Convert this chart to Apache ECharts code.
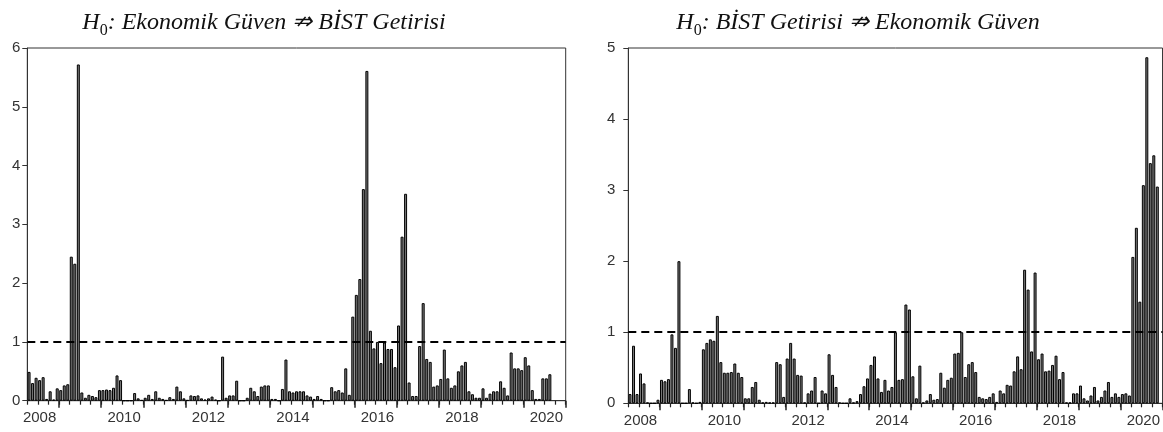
<!DOCTYPE html>
<html>
<head>
<meta charset="utf-8">
<script src="https://cdn.jsdelivr.net/npm/echarts@6/dist/echarts.min.js"></script>
<style>
  html, body { margin: 0; padding: 0; background: #fff; }
  #main { width: 1163px; height: 432px; }
</style>
</head>
<body>
<div id="main"></div>
<script>
// monthly categories, 2008M04 .. 2020M12
var months = []
for (var y = 2008; y <= 2020; y++) {
  for (var m = 1; m <= 12; m++) {
    if (y === 2008 && m < 4) continue
    months.push(y + 'M' + (m < 10 ? '0' + m : m))
  }
}

var titleLeft = ': Ekonomik Güven ⇏ BİST Getirisi'
var titleRight = ': BİST Getirisi ⇏ Ekonomik Güven'
var refLevel = 1

// H0: Ekonomik Guven does not cause BIST
var leftValues = [
  0.49, 0.30, 0.39, 0.35, 0.40, 0.03, 0.16, 0.02, 0.21, 0.18, 0.26, 0.28,
  2.45, 2.33, 5.72, 0.14, 0.05, 0.10, 0.08, 0.06, 0.18, 0.18, 0.19, 0.18,
  0.22, 0.43, 0.35, 0, 0, 0, 0.13, 0.04, 0.01, 0.05, 0.10, 0.03,
  0.16, 0.05, 0.03, 0.01, 0.06, 0.03, 0.24, 0.16, 0.04, 0.01, 0.09, 0.08,
  0.09, 0.04, 0.02, 0.04, 0.07, 0.02, 0, 0.75, 0.05, 0.09, 0.09, 0.34,
  0, 0, 0.05, 0.22, 0.16, 0.08, 0.24, 0.26, 0.26, 0.03, 0.03, 0,
  0.20, 0.70, 0.16, 0.14, 0.16, 0.16, 0.16, 0.09, 0.07, 0.03, 0.08, 0.03,
  0, 0, 0.23, 0.16, 0.18, 0.14, 0.55, 0.10, 1.43, 1.80, 2.07, 3.60,
  5.61, 1.19, 0.89, 1.00, 0.64, 0.99, 0.88, 0.88, 0.57, 1.28, 2.79, 3.52,
  0.31, 0.08, 0.08, 0.93, 1.66, 0.71, 0.66, 0.24, 0.26, 0.37, 0.87, 0.38,
  0.22, 0.26, 0.50, 0.60, 0.66, 0.16, 0.11, 0.05, 0.05, 0.21, 0.05, 0.12,
  0.16, 0.16, 0.33, 0.22, 0.09, 0.82, 0.55, 0.55, 0.52, 0.74, 0.60, 0.18,
  0.03, 0.03, 0.38, 0.38, 0.45
]

// H0: BIST does not cause Ekonomik Guven
var rightValues = [
  0.13, 0.81, 0.13, 0.42, 0.28, 0.01, 0, 0, 0.05, 0.33, 0.31, 0.34,
  0.97, 0.78, 2.00, 0, 0, 0.20, 0.01, 0, 0.02, 0.76, 0.85, 0.90,
  0.88, 1.23, 0.58, 0.43, 0.43, 0.44, 0.56, 0.43, 0.37, 0.07, 0.07, 0.23,
  0.30, 0.05, 0.01, 0.02, 0.01, 0.01, 0.58, 0.55, 0.09, 0.63, 0.85, 0.63,
  0.40, 0.39, 0.01, 0.14, 0.18, 0.37, 0, 0.18, 0.14, 0.69, 0.40, 0.23,
  0.01, 0, 0, 0.07, 0.01, 0.03, 0.13, 0.24, 0.35, 0.54, 0.66, 0.35,
  0.16, 0.33, 0.18, 0.23, 1.00, 0.33, 0.34, 1.39, 1.32, 0.38, 0.07, 0.53,
  0.01, 0.04, 0.13, 0.05, 0.06, 0.43, 0.22, 0.33, 0.36, 0.70, 0.71, 1.00,
  0.37, 0.55, 0.58, 0.44, 0.09, 0.07, 0.06, 0.09, 0.14, 0.02, 0.18, 0.14,
  0.26, 0.25, 0.45, 0.66, 0.48, 1.88, 1.60, 0.73, 1.84, 0.62, 0.70, 0.45,
  0.46, 0.54, 0.67, 0.34, 0.44, 0.01, 0.01, 0.14, 0.14, 0.25, 0.07, 0.04,
  0.11, 0.23, 0.04, 0.09, 0.18, 0.30, 0.09, 0.14, 0.09, 0.13, 0.14, 0.11,
  2.06, 2.47, 1.43, 3.07, 4.87, 3.38, 3.49, 3.05
]

var axisColor = '#333'
var labelFont = { fontFamily: 'Liberation Sans', fontSize: 15, color: '#333' }

var isJan = function (i, v) { return v.slice(5) === '01' }
var isQuarter = function (i, v) { return ['01', '04', '07', '10'].indexOf(v.slice(5)) >= 0 }
var isLabel = function (i, v) { return v.slice(5) === '07' && +v.slice(0, 4) % 2 === 0 }

function mainX (grid) {
  return {
    type: 'category', gridIndex: grid, position: 'bottom', data: months,
    axisLine: { show: true, lineStyle: { color: axisColor, width: 1 } },
    axisTick: { show: true, interval: isJan, length: 7, lineStyle: { color: '#222', width: 1.5 } },
    axisLabel: Object.assign({ interval: isLabel, margin: 10, formatter: function (v) { return v.slice(0, 4) } }, labelFont),
    splitLine: { show: false }
  }
}

function minorX (grid) {
  return {
    type: 'category', gridIndex: grid, position: 'bottom', data: months,
    axisLine: { show: false },
    axisTick: { show: true, interval: isQuarter, length: 4, lineStyle: { color: '#222', width: 1.2 } },
    axisLabel: { show: false },
    splitLine: { show: false }
  }
}

function yAx (grid, max, margin) {
  return {
    type: 'value', gridIndex: grid, min: 0, max: max, interval: 1,
    axisLine: { show: true, lineStyle: { color: axisColor } },
    axisTick: { show: true, length: 5, lineStyle: { color: axisColor } },
    axisLabel: Object.assign({ margin: margin }, labelFont),
    splitLine: { show: false }
  }
}

function bars (data, xi, yi) {
  return {
    type: 'bar', xAxisIndex: xi, yAxisIndex: yi, data: data,
    barCategoryGap: '15%',
    itemStyle: { color: '#7a7a7a', borderColor: '#000', borderWidth: 1 },
    markLine: {
      symbol: 'none', silent: true, label: { show: false },
      lineStyle: { color: '#000', width: 2, type: [8, 5] },
      data: [{ yAxis: refLevel }]
    }
  }
}

function titleRich () {
  return {
    i: { fontFamily: 'Liberation Serif', fontStyle: 'italic', fontWeight: 'normal', fontSize: 24, color: '#111', verticalAlign: 'bottom', padding: [0, 0, 4, 0] },
    s: { fontFamily: 'Liberation Serif', fontWeight: 'normal', fontSize: 16, color: '#111', verticalAlign: 'bottom' }
  }
}

var chart = echarts.init(document.getElementById('main'))
chart.setOption({
  animation: false,
  backgroundColor: '#fff',
  title: [
    { left: 259, top: 6, textAlign: 'center', text: '{i|H}{s|0}{i|' + titleLeft + '}', textStyle: { fontWeight: 'normal', rich: titleRich() } },
    { left: 853, top: 6, textAlign: 'center', text: '{i|H}{s|0}{i|' + titleRight + '}', textStyle: { fontWeight: 'normal', rich: titleRich() } }
  ],
  grid: [
    { left: 27.3, top: 48, width: 538.4, height: 352.7, show: true, borderColor: axisColor, borderWidth: 1 },
    { left: 628.3, top: 48, width: 539.7, height: 355.3, show: true, borderColor: axisColor, borderWidth: 1 }
  ],
  xAxis: [mainX(0), minorX(0), mainX(1), minorX(1)],
  yAxis: [yAx(0, 6, 7), yAx(1, 5, 13)],
  series: [bars(leftValues, 0, 0), bars(rightValues, 2, 1)]
})
</script>
</body>
</html>
